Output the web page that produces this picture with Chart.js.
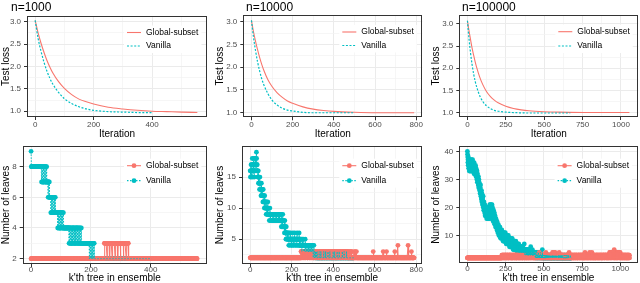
<!DOCTYPE html>
<html>
<head>
<meta charset="utf-8">
<script src="https://cdn.jsdelivr.net/npm/chart.js@4.4.1/dist/chart.umd.min.js"></script>
<style>
html, body { margin: 0; padding: 0; background: #fff; }
#wrap { position: relative; width: 640px; height: 283px; overflow: hidden; }
#wrap canvas { position: absolute; left: 0; top: 0; }
.ttl { position: absolute; top: 0; font: 12px "Liberation Sans", Arial, sans-serif; line-height: 15px; color: #000; white-space: nowrap; }
</style>
</head>
<body>
<div id="wrap">
  <canvas id="lossSmall" width="640" height="283"></canvas>
  <canvas id="lossMid" width="640" height="283"></canvas>
  <canvas id="lossBig" width="640" height="283"></canvas>
  <canvas id="leavesSmall" width="640" height="283"></canvas>
  <canvas id="leavesMid" width="640" height="283"></canvas>
  <canvas id="leavesBig" width="640" height="283"></canvas>
  <div class="ttl" style="left:11px">n=1000</div>
  <div class="ttl" style="left:246px">n=10000</div>
  <div class="ttl" style="left:462px">n=100000</div>
</div>
<script>
// Colours (ggplot defaults)
const RED = '#F8766D';
const CYAN = '#00BFC4';
const seriesNames = ['Global-subset', 'Vanilla'];

// ---- Test loss curves ----
const iterGlobal1k = [0, 10, 20, 30, 40, 50, 60, 80, 100, 125, 150, 175, 200, 250, 300, 350, 400, 450, 500, 555];
const lossGlobal1k = [3.03, 2.75, 2.52, 2.32, 2.14, 1.99, 1.86, 1.66, 1.51, 1.37, 1.27, 1.21, 1.16, 1.09, 1.05, 1.02, 1.00, 0.99, 0.98, 0.97];
const iterVanilla1k = [0, 10, 20, 30, 40, 50, 60, 80, 100, 125, 150, 175, 200, 250, 300, 350, 400];
const lossVanilla1k = [3.03, 2.63, 2.34, 2.10, 1.90, 1.74, 1.61, 1.42, 1.28, 1.17, 1.10, 1.05, 1.02, 0.99, 0.98, 0.97, 0.97];

const iterGlobal10k = [0, 10, 20, 30, 40, 50, 60, 80, 100, 125, 150, 175, 200, 250, 300, 350, 400, 500, 600, 700, 790];
const lossGlobal10k = [3.03, 2.78, 2.57, 2.38, 2.21, 2.06, 1.93, 1.72, 1.57, 1.43, 1.33, 1.25, 1.20, 1.12, 1.07, 1.04, 1.02, 1.00, 0.99, 0.99, 0.99];
const iterVanilla10k = [0, 10, 20, 30, 40, 50, 60, 80, 100, 125, 150, 175, 200, 250, 300, 400, 500];
const lossVanilla10k = [3.03, 2.66, 2.36, 2.11, 1.91, 1.74, 1.61, 1.41, 1.27, 1.16, 1.09, 1.05, 1.03, 1.00, 0.99, 0.99, 0.99];

const iterGlobal100k = [0, 10, 20, 30, 40, 50, 60, 80, 100, 125, 150, 175, 200, 250, 300, 350, 400, 500, 600, 800, 1055];
const lossGlobal100k = [3.07, 2.85, 2.65, 2.46, 2.30, 2.15, 2.02, 1.80, 1.63, 1.47, 1.36, 1.28, 1.22, 1.14, 1.09, 1.06, 1.04, 1.02, 1.01, 1.00, 1.00];
const iterVanilla100k = [0, 10, 20, 30, 40, 50, 60, 80, 100, 125, 150, 175, 200, 250, 300, 400, 500, 670];
const lossVanilla100k = [3.07, 2.67, 2.35, 2.09, 1.88, 1.71, 1.58, 1.38, 1.25, 1.15, 1.09, 1.05, 1.03, 1.01, 1.00, 0.99, 0.99, 0.99];

// ---- Number of leaves per tree, "value" or "value*count" tokens ----
const leavesGlobal1k = [
  '2*245',
  '3*9 2 3*8 2 3*7 2 3*9 2 3*8 2 3*8 2 3*9 2 3*8 2 3*7 2',
  '2*229'
];
const leavesVanilla1k = [
  '9 8*34',
  '7 8 8 7 8 7 7 8 7 8 8 7 8 7 7 8 7 8 7 7',
  '7 7 6 7 7 6 7 6',
  '6 6 6 5 6 6 5 6 5 6 6 5 5 6 5 6 5 5 6 5',
  '5*6',
  '4 5 4 5 5 4 5 4 4 5 4 5 4 5 5 4 5 4 4 5 4 4',
  '4*16',
  '3 4 3 4 4 3 4 3 3 4 3 4 3 4 4 3 4 3 4 3 3 4 3 4 3 4 4 3 4 3 4 3 3 4 3 4 3 3 4 3 3 4',
  '3*26',
  '2 3 3 2 3 3 3 2 3 3 2 3 2 3 3 2 3 2',
  '2*190'
];

const leavesGlobal10k = [
  '2*245',
  '3*2 2 3 2*2 3*3 2 3 2 3*2 2 3*3 2*2 3 2 3 2 3',
  '3*3 2 3 2*3 3*2 2 3*4 2 3 2*2 3 2 3*2 2 3',
  '2 3*2 2 3*3 2*2 3 2 3 2 3*4 2 3*2 2*2 3 2 3',
  '3*2 2*2 3 2 3*3 2 3*2 2 3 2*3 3*2 2 3 2 3 2 3',
  '2*2 3 2 3*2 2 3*3 2*2 3 2 3*3 2 3 2*2 3*2 2 3',
  '3 2 3*2 2*2 3*3 2 3 2*3 3*2 2 3*2 2 3 2*2 3*2',
  '2 3 2*2 3*2 2 3 2*3 3 2 3*2 2*2 3 2*2 3 2 3 2*2',
  '3 2 3*2 2 3*3 2*2 3 2 3*2 2 3 2*2 3*3 2 3 2 3*2',
  '2 3*2 2*2 3 2 3*3 2 3 2*3 3*2 2 3 2 3*2 2 3',
  '3 2*5 3 2*3 3 2*4 3*2 2*3 3 2*4',
  '2*6 3 2*5 3 2*4 3 2*7',
  '2*73 3 2*47 3 2*15 3 2*39 3 2*14 4 2*48 4 2*15 3 2*13'
];
const leavesVanilla10k = [
  '16 15 16 16 17 16 15 16 17 16 18 17 16 15 16 17 16 18 17 16',
  '15 16 17 16 18 17 18 17 16 17 19 18 17 16 17 16 15 16 15 16',
  '14 15 14 15 14 13 14 15 14 13 14 13 12 13 14 13 12 13 12 13',
  '12 11 12 13 12 11 12 11 10 11 12 11 10 11 10 11 10 9 10 11',
  '10 9 10 9 10 11 10 9 10 9 9 9 8 9 9 10 9 9 8 9',
  '9 9 9 8 9 9 9 9 9 8 8 9 9 9 8 9 9 9 9 8 9 9 8 9 9 9 9 8 9 9 9 8 9 9 9 9 8 9 9 8',
  '9 8 9 8 8 9 8 8 9 8 7 8 9 8 8 7 8 9 8 7 8 7 8 8 7 6 7 8 7 6',
  '7 6 5 6 7 6 5 6 5 5 6 5 5 6 5 5 4 5 6 5 5 4 5 5 6 5 5 5 4 5',
  '5 4 5 5 5 6 5 4 5 5 5 4 5 5 6 5 5 5 4 5 5 5 4 5 5 5 6 5 5 4 5 5 4 5 5 5 6 5 4 5',
  '4 5 4 4 5 4 4 5 4 3 4 4 5 4 4 4 5 4 4 3 4 4 3 4 4 5 4 4 3 4 4 4 3 4 4 3 4 4 4 3',
  '4 3 3 4 3 4 4 3 3 4 3 3 4 3 3 4 4 3 3 4 3 3 4 3 2 3 3 4 3 3 2 3 3 3 2 3 3 2 3 3',
  '2*6 3 2*9 3 2*4 3 2*12 3 2*7 3 2 3 2*10 3 2*8 3 2*15 3 2*6 3 2*11 3 2*9 3 2*14 3 2*8 3 2*10 3 2*20 2*15'
];

const leavesGlobal100k = [
  '2*225',
  '3 2 3*2 2*2 3 2 3*3 2 3 2*3 3*2 2 3 2 3*4 2*2 3 2 3*2 2 3 2*2 3*3 2 3',
  '2 3*2 2*3 3 2 3*4 2 3 2*2 3*3 2 3 2 3*2 2*2 3 2*3 3*2 2 3*3 2 3 2 3',
  '3*2 2 3 2*2 3*3 2 3*2 2*3 3 2 3 2*2 3*4 2 3 2*2 3 2 3*3 2*2 3 2 3*2 2',
  '3 2*2 3*2 2 3*3 2 3 2*2 3*2 2*3 3 2 3*4 2 3 2 3*2 2*2 3 2 3*3 2 3 2 3',
  '2 3 2*2 3*3 2 3*2 2 3 2*2 3*3 2*2 3 2 3*2 2 3*4 2 3 2*2 3*2 2 3*3 2 3',
  '3 2 3*3 2*2 3 2 3*2 2*3 3*3 2 3 2 3*2 2*2 3*4 2 3 2*2 3*2 2 3 2 3*3',
  '3*2 2 3 2 4 3 2 3*3 2*2 3 2 3*2 2 3*3 2*2 3 2*2 3*3 2 3 2*2 3*2 2 3 2 3*2',
  '2 3*2 2 3 2 3 2 4 3*2 2*2 3 2 3*3 2 3*2 2*2 3 2 3*3 2 3*2 2 3 2*2 3*2 2 3 2',
  '3 2 3*2 2 3 2*2 3 2 3 2 4 3 2 3 4 3*2 2 3 2 4 3 2*2 3 2 3 4 3 2 3*2 2 3 2 3 2 3',
  '2 3*2 2*2 3 2 3*3 2 3 2*2 3 4 3 2 3*2 2*2 3*3 2 3 2*2 3*2 2 3 2 3*2 2 3 2 3',
  '3*2 2 3 2*2 3*3 2 3*2 2*3 3 2 3 2*2 3*4 2 3 2*2 3 2 3*3 2*2 3 2 3*2 2',
  '4 3 2 3*2 2*2 3 2 3*3 2 3*2 2*3 3 2 3 2*2 3*3 2 3 2*2 3 2 3*2 2 3 2 3*2 2',
  '3 2*2 3*2 2 3*3 2 3 2*2 3*2 2*3 3 2 3*4 2 3 2 3*2 2*2 3 2 3*3 2 3 2 3',
  '3 2 3*2 2*2 3*3 2 3 2*2 3*2 2 3 2*3 3*2 2 3 4 3 2 3*2 2 3 2*2 3*3 2 3 2 3',
  '2 3*2 2 3 2*2 3*3 2 3 2 3 4 3 2*2 3*2 2 3 2*2 3*2 2 3 2 4 3 2 3*2 2 3 2*2 3 2',
  '3 2 3*2 2*2 3 2 3*3 2 3 2*3 3*2 2 3 2 3*4 2*2 3 2 3*2 2 3 2*2 3*3 2 3',
  '2 3 2*2 3*3 2 3*2 2 3 2*2 3*3 2*2 3 2 3*2 2 3*4 2 3 2*2 3*2 2 3*3 2 3',
  '3*2 2 3 2*2 3*3 2 3*2 2 3 2*2 3 2 3*3 2 3 2 3 4 3 2 4 3 2 3*2 2 4 3 2 3*2 2',
  '3 4 3 2 3 4 3*2 2 3 4 3 2 3 2 5 3 2 4 3 2*2 3 4 3 2 3*2 2 4 3 2 3 2 4 3 2 3 2 3',
  '4 3 2 3 4 3*2 2 3 4 3 2*2 3 4 3 2 3*2 2*2 3 2 3*3 2 3 2*2 3*2 2 3 2 3*2 2 3 2',
  '3*2 2 3 2*2 3*3 2 3 2*2 3*2 2 3 2*3 3*2 2 3 2 3*2 2*2 3 2 3*2 2 3 2'
];
const leavesVanilla100k = [
  '40 39 38 36 37 35 38 36 34 37 35 36 33 37 35 34 36 35 33 36',
  '34 37 35 33 36 34 35 37 33 35 34 36 33 35 37 34 33 35 36 34',
  '33 35 34 32 36 34 33 35 33 34 32 34 33 35 32 33 31 34 32 33',
  '31 32 30 33 31 29 32 30 31 29 30 28 31 29 27 30 28 29 27 28',
  '26 28 27 25 27 26 28 25 24 26 25 23 26 24 22 25 23 24 22 21',
  '23 21 22 24 20 22 21 19 22 20 21 19 20 18 21 19 17 20 18 19',
  '17 19 18 20 17 18 16 19 17 18 19 17 18 16 20 17 18 19 17 16',
  '18 20 17 19 16 18 21 17 19 20 21 18 20 17 19 21 18 16 20 17',
  '19 21 17 18 20 16 19 17 18 15 17 19 16 18 15 17 16 18 14 16',
  '15 17 14 16 13 15 14 16 13 14 15 13 14 12 15 13 14 12 13 11',
  '13 12 14 11 12 13 10 12 11 13 12 10 11 13 10 12 11 9 12 10',
  '11 12 9 11 10 12 9 10 11 9 10 11 9 10 8 11 9 10 8 9',
  '11 9 8 10 9 8 10 9 11 8 9 10 8 9 7 10 8 9 8 7',
  '9 8 10 7 8 9 7 8 10 8 7 9 8 7 9 6 8 7 9 8',
  '7 8 6 9 7 8 6 7 8 7 6 8 7 9 6 7 8 6 7 5',
  '7 6 8 5 7 6 7 5 6 8 6 7 5 6 7 5 6 8 5 6',
  '7 5 6 5 7 6 4 6 5 7 5 6 4 5 6 5 7 4 5 6',
  '5 4 6 5 4 6 5 4 5 6 4 5 6 4 5 4 5 6 4 5',
  '4 5 4 6 4 5 4 5 4 4 5 4 7 4 5 4 3 5 4 4',
  '5 4 3 4 5 4 3 4 4 5 3 4 5 3 4 4 3 5 4 3',
  '4 3 4 5 3 4 3 4 3 4 5 3 4 3 6 4 3 4 3 3',
  '4 3 4 3 3 5 3 4 3 3 4 3 3 4 3 3 4 3 3 4',
  '3 3 4 3 2 3 3 4 3 2',
  '3 2 3 3 4 3 2 3 3 2 3 3 2 3 4 3 2 3 3 2 3 2 3 3 2 3 3 4 3 2 3 2 3 3 2 3 2 3 3 2',
  '5 3 2 3 2 3 3 2 3 2',
  '2*3 3 2 3 2*2 3 2*4 3 2 3*2 2*3 3 2*2 3 2*3 3 2 3',
  '2*2 3 2*3 3*2 2*4 3 2*3 3 2*6 3 2 3 2*2 3 2',
  '2*4 3 2*3 3 2*5 3*2 2*2 3 2*3 3 2*4 3 2*2',
  '2*7 3 2 3 2*3 3 2*5 3 2*4 3 2*2 3 2*2',
  '2*3 3 2*8 3 2*5 3 2*6 3 2*4',
  '3 2*6 3 2*4 3 2*10 3 2*6'
];

// Axis ticks (major labelled, minor grid only)
const lossTicks = { major: [1, 1.5, 2, 2.5, 3], minor: [1.25, 1.75, 2.25, 2.75] };
const ticks1k = { major: [0, 200, 400], minor: [100, 300, 500] };
const ticks10k = { major: [0, 200, 400, 600, 800], minor: [100, 300, 500, 700] };
const ticks100k = { major: [0, 250, 500, 750, 1000], minor: [125, 375, 625, 875] };
const leafTicks1k = { major: [2, 4, 6, 8], minor: [3, 5, 7, 9] };
const leafTicks10k = { major: [5, 10, 15], minor: [2.5, 7.5, 12.5, 17.5] };
const leafTicks100k = { major: [10, 20, 30, 40], minor: [5, 15, 25, 35] };

Chart.defaults.font.family = '"Liberation Sans", Arial, Helvetica, sans-serif';

// Decode "v" / "v*n" tokens into one value per tree
function expandRuns(lines) {
  const out = [];
  lines.join(' ').trim().split(/\s+/).forEach(tok => {
    const parts = tok.split('*');
    const n = parts[1] ? parseInt(parts[1]) : 1;
    for (let i = 0; i < n; i++) out.push(parseFloat(parts[0]));
  });
  return out;
}

function zip(xs, ys) {
  return xs.map((x, i) => ({ x: x, y: ys[i] }));
}

// Legend drawn inside the panel, ggplot style
const insideLegend = {
  id: 'insideLegend',
  afterDatasetsDraw(chart, args, opts) {
    if (!opts.items) return;
    const ctx = chart.ctx;
    const a = chart.chartArea;
    const x0 = a.right - opts.fromRight;
    ctx.save();
    ctx.font = '8.5px "Liberation Sans", Arial, sans-serif';
    const tw = Math.max(...opts.items.map(it => ctx.measureText(it.label).width));
    ctx.fillStyle = '#fff';
    ctx.fillRect(x0 - 3, a.top + opts.rows[0] - 7, 22 + tw + 3, opts.rows[1] - opts.rows[0] + 14);
    opts.items.forEach((it, i) => {
      const y = a.top + opts.rows[i];
      ctx.strokeStyle = it.color;
      ctx.lineWidth = it.width;
      ctx.setLineDash(it.dash || []);
      ctx.beginPath();
      ctx.moveTo(x0, y);
      ctx.lineTo(x0 + 14, y);
      ctx.stroke();
      ctx.setLineDash([]);
      if (it.point) {
        ctx.fillStyle = it.color;
        ctx.beginPath();
        ctx.arc(x0 + 7, y, 2.4, 0, Math.PI * 2);
        ctx.fill();
      }
      ctx.fillStyle = '#000';
      ctx.textAlign = 'left';
      ctx.textBaseline = 'middle';
      ctx.fillText(it.label, x0 + 19, y);
    });
    ctx.restore();
  }
};

// Panel border (theme_bw)
const panelBorder = {
  id: 'panelBorder',
  afterDraw(chart) {
    const ctx = chart.ctx;
    const a = chart.chartArea;
    ctx.save();
    ctx.strokeStyle = '#333333';
    ctx.lineWidth = 1;
    const l = Math.round(a.left) + 0.5, t = Math.round(a.top) + 0.5;
    const r = Math.round(a.right) - 0.5, b = Math.round(a.bottom) - 0.5;
    ctx.strokeRect(l, t, r - l, b - t);
    ctx.restore();
  }
};

Chart.register(insideLegend, panelBorder);

function axis(o) {
  const vals = o.ticks.major.concat(o.ticks.minor).filter(v => v >= o.min && v <= o.max).sort((p, q) => p - q);
  const isMajor = v => o.ticks.major.some(m => Math.abs(m - v) < 1e-9);
  const tickVal = c => (c.tick ? c.tick.value : NaN);
  return {
    type: 'linear',
    min: o.min,
    max: o.max,
    afterBuildTicks: s => { s.ticks = vals.map(v => ({ value: v })); },
    afterFit: s => { if (o.horizontal) s.height = o.size; else s.width = o.size; },
    grid: {
      color: c => isMajor(tickVal(c)) ? '#EBEBEB' : '#F2F2F2',
      lineWidth: c => isMajor(tickVal(c)) ? 1 : 0.7,
      tickColor: c => isMajor(tickVal(c)) ? '#333333' : 'rgba(0,0,0,0)',
      tickLength: 3,
      tickWidth: 1,
      drawTicks: true
    },
    border: { display: false },
    ticks: {
      autoSkip: false,
      maxRotation: 0,
      padding: o.tickPad !== undefined ? o.tickPad : (o.horizontal ? 0 : 3),
      color: '#4D4D4D',
      font: { size: 8 },
      callback: v => isMajor(v) ? o.fmt(v) : ''
    },
    title: {
      display: true,
      text: o.title,
      color: '#000',
      font: { size: 10 },
      padding: { top: 0, bottom: o.titlePad || 0 }
    }
  };
}

function lossDatasets(ig, lg, iv, lv) {
  return [
    { label: seriesNames[0], data: zip(ig, lg), borderColor: RED, borderWidth: 1.1, pointRadius: 0,
      cubicInterpolationMode: 'monotone', order: 2 },
    { label: seriesNames[1], data: zip(iv, lv), borderColor: CYAN, borderWidth: 1.2, borderDash: [2, 1.6],
      pointRadius: 0, cubicInterpolationMode: 'monotone', order: 1 }
  ];
}

function leafDatasets(globalVals, vanillaVals) {
  const g = globalVals.map((y, i) => ({ x: i, y: y }));
  const v = vanillaVals.map((y, i) => ({ x: i, y: y }));
  const pts = (data, color, order) => ({
    data: data, showLine: false, pointRadius: 2.4, pointHoverRadius: 2.4, pointBorderWidth: 0,
    pointBackgroundColor: color, borderColor: color, order: order
  });
  return [
    pts(v, CYAN, 4),
    pts(g, RED, 3),
    { label: seriesNames[0], data: g, borderColor: RED, borderWidth: 1, pointRadius: 0, order: 2 },
    { label: seriesNames[1], data: v, borderColor: CYAN, borderWidth: 1, borderDash: [1.5, 1.5], pointRadius: 0, order: 1 }
  ];
}

function legendItems(withPoint) {
  return [
    { label: seriesNames[0], color: RED, width: 1.1, dash: [], point: withPoint },
    { label: seriesNames[1], color: CYAN, width: 1.2, dash: withPoint ? [1.5, 1.5] : [2, 1.6], point: withPoint }
  ];
}

function makePanel(id, p) {
  new Chart(document.getElementById(id), {
    type: 'line',
    data: { datasets: p.datasets },
    options: {
      responsive: false,
      animation: false,
      events: [],
      layout: { padding: p.pad },
      plugins: {
        legend: { display: false },
        tooltip: { enabled: false },
        insideLegend: { items: legendItems(p.points), fromRight: 80, rows: p.rows }
      },
      scales: {
        x: axis(Object.assign({ horizontal: true, fmt: v => String(v) }, p.x)),
        y: axis(Object.assign({ horizontal: false }, p.y))
      }
    }
  });
}

const fmtLoss = v => v.toFixed(1);
const fmtInt = v => String(v);
const treeTitle = "k'th tree in ensemble";

makePanel('lossSmall', {
  datasets: lossDatasets(iterGlobal1k, lossGlobal1k, iterVanilla1k, lossVanilla1k),
  pad: { left: 0, top: 16, right: 433, bottom: 143 }, rows: [16.5, 30], points: false,
  x: { min: -28, max: 588, ticks: ticks1k, title: 'Iteration', size: 23 },
  y: { min: 0.87, max: 3.13, ticks: lossTicks, title: 'Test loss', size: 27, fmt: fmtLoss }
});
makePanel('lossMid', {
  datasets: lossDatasets(iterGlobal10k, lossGlobal10k, iterVanilla10k, lossVanilla10k),
  pad: { left: 214, top: 15, right: 217.7, bottom: 143 }, rows: [17, 30.5], points: false,
  x: { min: -39.5, max: 829.5, ticks: ticks10k, title: 'Iteration', size: 22.7 },
  y: { min: 0.89, max: 3.15, ticks: lossTicks, title: 'Test loss', size: 29.3, fmt: fmtLoss }
});
makePanel('lossBig', {
  datasets: lossDatasets(iterGlobal100k, lossGlobal100k, iterVanilla100k, lossVanilla100k),
  pad: { left: 430.7, top: 15, right: 1.7, bottom: 143 }, rows: [16.7, 31], points: false,
  x: { min: -53, max: 1113, ticks: ticks100k, title: 'Iteration', size: 23 },
  y: { min: 0.90, max: 3.20, ticks: lossTicks, title: 'Test loss', size: 28.6, fmt: fmtLoss }
});
makePanel('leavesSmall', {
  datasets: leafDatasets(expandRuns(leavesGlobal1k), expandRuns(leavesVanilla1k)),
  pad: { left: 0, top: 146, right: 433, bottom: 0 }, rows: [19.7, 34.7], points: true,
  x: { min: -28, max: 588, ticks: ticks1k, title: treeTitle, size: 19, tickPad: -2, titlePad: -1.5 },
  y: { min: 1.65, max: 9.35, ticks: leafTicks1k, title: 'Number of leaves', size: 22.7, fmt: fmtInt }
});
makePanel('leavesMid', {
  datasets: leafDatasets(expandRuns(leavesGlobal10k), expandRuns(leavesVanilla10k)),
  pad: { left: 214, top: 146, right: 217.7, bottom: 0 }, rows: [19.7, 34.7], points: true,
  x: { min: -39.5, max: 829.5, ticks: ticks10k, title: treeTitle, size: 19, tickPad: -2, titlePad: -1.5 },
  y: { min: 1.0, max: 20.0, ticks: leafTicks10k, title: 'Number of leaves', size: 28, fmt: fmtInt }
});
makePanel('leavesBig', {
  datasets: leafDatasets(expandRuns(leavesGlobal100k), expandRuns(leavesVanilla100k)),
  pad: { left: 430.7, top: 146, right: 2, bottom: 0 }, rows: [19.7, 34.7], points: true,
  x: { min: -53, max: 1113, ticks: ticks100k, title: treeTitle, size: 19.7, tickPad: -2, titlePad: -1.5 },
  y: { min: 0.1, max: 41.9, ticks: leafTicks100k, title: 'Number of leaves', size: 28.6, fmt: fmtInt }
});
</script>
</body>
</html>
